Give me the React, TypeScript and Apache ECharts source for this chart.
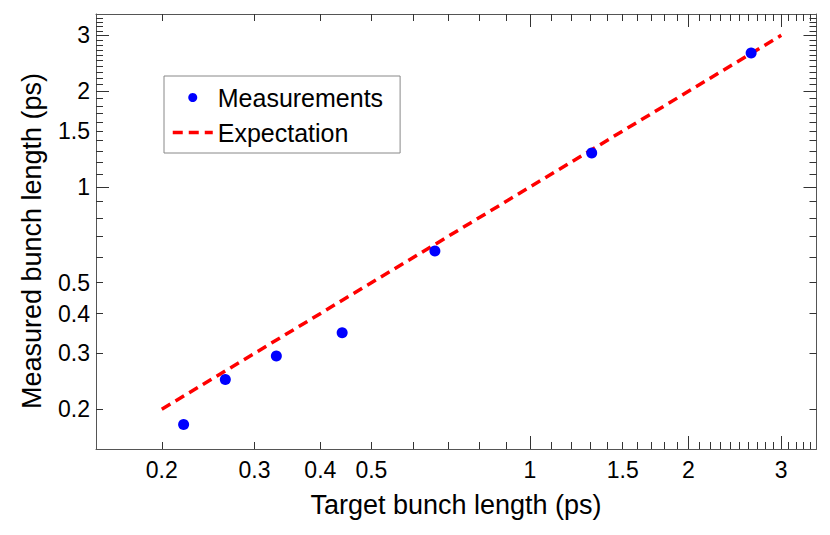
import { useEffect, useRef } from "react";
import * as echarts from "echarts";

// Axis range (ps), log-scaled
const axisMin = 0.15;
const axisMax = 3.5;
// Tick labels on both axes
const tickLabels = [0.2, 0.3, 0.4, 0.5, 1, 1.5, 2, 3];
// Short ticks
const minorTicks = [
  0.2, 0.3, 0.4, 0.5, 0.6, 0.7, 0.8, 0.9,
  1.1, 1.2, 1.3, 1.4, 1.5, 1.6, 1.7, 1.8, 1.9,
  2.1, 2.2, 2.3, 2.4, 2.5, 2.6, 2.7, 2.8, 2.9,
  3.1, 3.2, 3.3, 3.4,
];
// Long ticks
const majorTicks = [1, 2, 3];

// Measurements
const targetLength = [0.22, 0.264, 0.33, 0.44, 0.66, 1.31, 2.63];
const measuredLength = [0.179, 0.248, 0.294, 0.348, 0.629, 1.28, 2.64];
// Expectation line
const expectationX = [0.2, 3];
const expectationY = [0.2, 3];

const FONT = "'Liberation Sans', Arial, Helvetica, sans-serif";
const lg = (v: number) => Math.log10(v);

const fmt = (v: number) => String(Math.round(Math.pow(10, v) * 10) / 10);

function makeAxis(
  dim: "x" | "y",
  position: string,
  ticks: number[],
  len: number,
  showLine: boolean,
  showLabel: boolean
) {
  return {
    type: "value",
    position,
    min: lg(axisMin),
    max: lg(axisMax),
    splitLine: { show: false },
    axisLine: {
      show: showLine,
      onZero: false,
      lineStyle: { color: "#555", width: 1 },
    },
    axisTick: {
      show: true,
      inside: true,
      length: len,
      customValues: ticks.map(lg),
      lineStyle: { color: "#333", width: 1 },
    },
    axisLabel: {
      show: showLabel,
      customValues: tickLabels.map(lg),
      formatter: fmt,
      color: "#000",
      fontSize: 23,
      fontFamily: FONT,
      margin: dim === "x" ? 9 : 6,
    },
  };
}

export default function App() {
  const ref = useRef<HTMLDivElement>(null);

  useEffect(() => {
    document.body.style.margin = "0";
    if (!ref.current) return;
    const chart = echarts.init(ref.current, undefined, { renderer: "svg" });

    const option = {
      animation: false,
      backgroundColor: "#fff",
      grid: { left: 96, right: 13.5, top: 14, bottom: 86 },
      xAxis: [
        makeAxis("x", "bottom", minorTicks, 7, true, true),
        makeAxis("x", "bottom", majorTicks, 13, false, false),
        makeAxis("x", "top", minorTicks, 7, true, false),
        makeAxis("x", "top", majorTicks, 13, false, false),
      ],
      yAxis: [
        makeAxis("y", "left", minorTicks, 7, true, true),
        makeAxis("y", "left", majorTicks, 13, false, false),
        makeAxis("y", "right", minorTicks, 7, true, false),
        makeAxis("y", "right", majorTicks, 13, false, false),
      ],
      legend: {
        left: 164,
        top: 76,
        orient: "vertical",
        data: [
          { name: "Measurements", icon: "circle", itemStyle: { color: "#0000ff", opacity: 1 } },
          {
            name: "Expectation",
            itemStyle: { color: "rgba(0,0,0,0)", borderWidth: 0 },
            lineStyle: { color: "#ff0000", width: 3.5, type: [10, 6] },
          },
        ],
        itemWidth: 40,
        itemHeight: 9,
        itemGap: 10,
        padding: [9, 17, 8, 7],
        backgroundColor: "#fff",
        borderColor: "#888",
        borderWidth: 1,
        borderRadius: 0,
        selectedMode: false,
        textStyle: { fontSize: 25, color: "#000", fontFamily: FONT },
      },
      graphic: [
        {
          type: "text",
          x: 456,
          y: 505,
          style: {
            text: "Target bunch length (ps)",
            font: `27px ${FONT}`,
            fill: "#000",
            textAlign: "center",
            textVerticalAlign: "middle",
          },
        },
        {
          type: "text",
          x: 32,
          y: 241,
          rotation: Math.PI / 2,
          style: {
            text: "Measured bunch length (ps)",
            font: `27px ${FONT}`,
            fill: "#000",
            textAlign: "center",
            textVerticalAlign: "middle",
          },
        },
      ],
      series: [
        {
          name: "Expectation",
          type: "line",
          xAxisIndex: 0,
          yAxisIndex: 0,
          symbol: "none",
          z: 2,
          data: expectationX.map((x, i) => [lg(x), lg(expectationY[i])]),
          lineStyle: { color: "#ff0000", width: 3.5, type: [10, 6] },
          itemStyle: { color: "#ff0000" },
        },
        {
          name: "Measurements",
          type: "scatter",
          xAxisIndex: 0,
          yAxisIndex: 0,
          z: 3,
          symbol: "circle",
          symbolSize: 11,
          data: targetLength.map((x, i) => [lg(x), lg(measuredLength[i])]),
          itemStyle: { color: "#0000ff", opacity: 1 },
        },
      ],
    };

    chart.setOption(option as any);
    return () => chart.dispose();
  }, []);

  return <div ref={ref} style={{ width: 830, height: 535 }} />;
}
